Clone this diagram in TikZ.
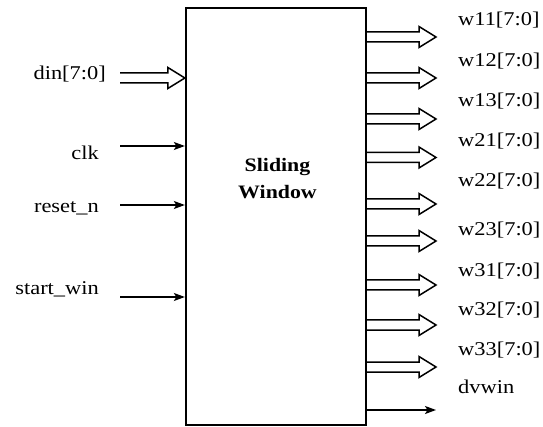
\documentclass[tikz,border=0pt]{standalone}
\usepackage{fontspec}
\setmainfont{Liberation Serif}[FakeStretch=1.15]
\usetikzlibrary{arrows.meta,calc,positioning}

\tikzset{
  sig/.style={draw, line width=1.4pt, -{Stealth[length=11pt,width=8pt,inset=2.5pt]}},
  bus/.style={draw, line width=1.5pt, line join=miter},
  lbl/.style={inner sep=0pt, font=\fontsize{19.5}{23}\selectfont},
}

% wide bus arrow from #1 to #2 (same height)
\newcommand{\busarrow}[2]{%
  \draw[bus] let \p1=(#1), \p2=(#2) in
    (\x1,\y1+5pt) -- (\x2-17pt,\y1+5pt) -- (\x2-17pt,\y1+10.5pt) -- (\x2,\y1)
    -- (\x2-17pt,\y1-10.5pt) -- (\x2-17pt,\y1-5pt) -- (\x1,\y1-5pt);}

\begin{document}
\begin{tikzpicture}[x=1pt, y=-1pt]
		\useasboundingbox (0,0) rectangle (543,427);
		
		\node[draw, line width=2.3pt, minimum width=180pt, minimum height=417pt, inner sep=0pt] (win) at (276,216.5) {};
		\node[inner sep=0pt, align=center, font=\fontsize{19}{26.6}\selectfont\bfseries] (title) at (277.5,178.5) {Sliding\\Window};
		
		% inputs
		\node[lbl, anchor=base east] (din) at (106,80) {din[7:0]};
		\coordinate (din-in) at (120,78);
		\busarrow{din-in}{din-in -| win.west}
		
		\node[lbl, anchor=base east] (clk) at (99,160) {clk};
		\coordinate (clk-in) at (120,146);
		\draw[sig] (clk-in) -- (clk-in -| win.west);
		
		\node[lbl, anchor=base east] (rst) at (99,213) {reset\_n};
		\coordinate (rst-in) at (120,205);
		\draw[sig] (rst-in) -- (rst-in -| win.west);
		
		\node[lbl, anchor=base east] (start) at (99,295) {start\_win};
		\coordinate (start-in) at (120,297);
		\draw[sig] (start-in) -- (start-in -| win.west);
		
		% outputs
		\node[lbl, anchor=base west] (w11) at (458,26) {w11[7:0]};
		\coordinate (w11-out) at (436,37);
		\busarrow{w11-out -| win.east}{w11-out}
		
		\node[lbl, anchor=base west] (w12) at (458,67) {w12[7:0]};
		\coordinate (w12-out) at (436,78);
		\busarrow{w12-out -| win.east}{w12-out}
		
		\node[lbl, anchor=base west] (w13) at (458,107) {w13[7:0]};
		\coordinate (w13-out) at (436,119);
		\busarrow{w13-out -| win.east}{w13-out}
		
		\node[lbl, anchor=base west] (w21) at (458,147) {w21[7:0]};
		\coordinate (w21-out) at (436,157.5);
		\busarrow{w21-out -| win.east}{w21-out}
		
		\node[lbl, anchor=base west] (w22) at (458,187) {w22[7:0]};
		\coordinate (w22-out) at (436,204);
		\busarrow{w22-out -| win.east}{w22-out}
		
		\node[lbl, anchor=base west] (w23) at (458,236) {w23[7:0]};
		\coordinate (w23-out) at (436,241);
		\busarrow{w23-out -| win.east}{w23-out}
		
		\node[lbl, anchor=base west] (w31) at (458,277) {w31[7:0]};
		\coordinate (w31-out) at (436,285);
		\busarrow{w31-out -| win.east}{w31-out}
		
		\node[lbl, anchor=base west] (w32) at (458,316) {w32[7:0]};
		\coordinate (w32-out) at (436,325);
		\busarrow{w32-out -| win.east}{w32-out}
		
		\node[lbl, anchor=base west] (w33) at (458,355) {w33[7:0]};
		\coordinate (w33-out) at (436,367);
		\busarrow{w33-out -| win.east}{w33-out}
		
		\node[lbl, anchor=base west] (dv) at (458,393) {dvwin};
		\coordinate (dv-out) at (436,410);
		\draw[sig] (dv-out -| win.east) -- (dv-out);
		
		\end{tikzpicture}
\end{document}
